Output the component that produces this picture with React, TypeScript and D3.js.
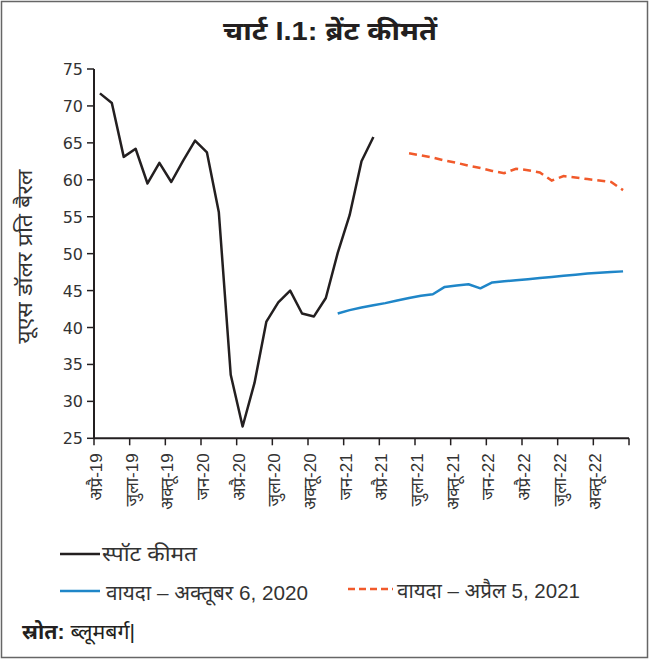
import React from "react";
import * as d3 from "d3";

const monthCount = 45; // Apr-19 .. Dec-22
const tickLabels = [
  "अप्रै-19", "जुला-19", "अक्तू-19", "जन-20", "अप्रै-20", "जुला-20", "अक्तू-20", "जन-21",
  "अप्रै-21", "जुला-21", "अक्तू-21", "जन-22", "अप्रै-22", "जुला-22", "अक्तू-22",
];
const yTicks = [25, 30, 35, 40, 45, 50, 55, 60, 65, 70, 75];

// month index 0 = Apr-19
const spotStart = 0;
const spotValues = [
  71.7, 70.4, 63.1, 64.2, 59.5, 62.3, 59.7, 62.6, 65.3, 63.7, 55.6, 33.6,
  26.6, 32.5, 40.8, 43.4, 45.0, 41.9, 41.5, 44.0, 50.1, 55.2, 62.5, 65.8,
];
const futOctStart = 20;
const futOctValues = [
  41.9, 42.35, 42.7, 43.0, 43.3, 43.65, 44.0, 44.3, 44.5, 45.5, 45.7, 45.85,
  45.3, 46.1, 46.25, 46.4, 46.55, 46.7, 46.85, 47.0, 47.15, 47.3, 47.4, 47.5, 47.6,
];
const futAprStart = 26;
const futAprValues = [
  63.6, 63.3, 63.0, 62.6, 62.3, 61.9, 61.6, 61.2, 60.9, 61.5, 61.3, 61.0,
  59.9, 60.5, 60.3, 60.1, 59.9, 59.7, 58.6,
];

const W = 649;
const H = 659;
const FONT = "'Liberation Sans', 'Noto Sans Devanagari', Arial, sans-serif";
const NUMFONT = "'DejaVu Sans', Verdana, sans-serif";

export default function App() {
  const x = d3.scaleLinear().domain([0, monthCount]).range([94, 629]);
  const y = d3.scaleLinear().domain([25, 75]).range([438.3, 69]);
  const line = d3
    .line<[number, number]>()
    .x((d) => x(d[0] + 0.5))
    .y((d) => y(d[1]));
  const toPts = (start: number, vals: number[]) =>
    vals.map((v, i) => [start + i, v] as [number, number]);

  const quarterTicks = d3.range(0, monthCount + 1, 3);

  return (
    <svg
      width={W}
      height={H}
      style={{ position: "absolute", left: 0, top: 0, background: "#fff" }}
      fontFamily={FONT}
    >
      <rect x={1.5} y={1.5} width={W - 3} height={H - 3} fill="#fff" stroke="#666" strokeWidth={1.5} />
      <text
        x={330}
        y={40}
        textAnchor="middle"
        fontSize={26}
        fontWeight="bold"
        fill="#231f20"
        textLength={214}
        lengthAdjust="spacingAndGlyphs"
      >
        चार्ट I.1: ब्रेंट कीमतें
      </text>

      {/* y axis */}
      <line x1={x(0)} x2={x(0)} y1={y(75)} y2={y(25)} stroke="#231f20" strokeWidth={2} />
      {yTicks.map((t) => (
        <g key={t}>
          <line x1={x(0) - 7} x2={x(0)} y1={y(t)} y2={y(t)} stroke="#231f20" strokeWidth={1.5} />
          <text x={x(0) - 11} y={y(t) + 6} textAnchor="end" fontSize={16} fill="#333" fontFamily={NUMFONT}>
            {t}
          </text>
        </g>
      ))}
      <text
        transform={`translate(32, ${y(50) + 3}) rotate(-90)`}
        textAnchor="middle"
        fontSize={20}
        fill="#333"
        textLength={174}
        lengthAdjust="spacingAndGlyphs"
      >
        यूएस डॉलर प्रति बैरल
      </text>

      {/* x axis */}
      <line x1={x(0)} x2={x(monthCount)} y1={y(25)} y2={y(25)} stroke="#231f20" strokeWidth={2} />
      {quarterTicks.map((m, i) => (
        <g key={m}>
          <line x1={x(m)} x2={x(m)} y1={y(25)} y2={y(25) + 7} stroke="#231f20" strokeWidth={1.5} />
          {tickLabels[i] && (
            <text
              transform={`translate(${x(m) + 8}, ${y(25) + 15}) rotate(-90)`}
              textAnchor="end"
              fontSize={17}
              fill="#333"
            >
              {tickLabels[i]}
            </text>
          )}
        </g>
      ))}

      {/* series */}
      <path d={line(toPts(spotStart, spotValues)) || ""} fill="none" stroke="#231f20" strokeWidth={2.5} strokeLinejoin="round" />
      <path d={line(toPts(futOctStart, futOctValues)) || ""} fill="none" stroke="#1f86c8" strokeWidth={2.5} strokeLinejoin="round" />
      <path d={line(toPts(futAprStart, futAprValues)) || ""} fill="none" stroke="#f15a2b" strokeWidth={2.5} strokeDasharray="8,5" />

      {/* legend */}
      <line x1={60} x2={100} y1={554} y2={554} stroke="#231f20" strokeWidth={2.5} />
      <text x={102} y={561} fontSize={21} fill="#333" textLength={95} lengthAdjust="spacingAndGlyphs">
        स्पॉट कीमत
      </text>
      <line x1={60} x2={100} y1={591} y2={591} stroke="#1f86c8" strokeWidth={2.5} />
      <text x={106} y={600} fontSize={21} fill="#333" textLength={202} lengthAdjust="spacingAndGlyphs">
        वायदा – अक्तूबर 6, 2020
      </text>
      <line x1={348} x2={393} y1={589} y2={589} stroke="#f15a2b" strokeWidth={2.5} strokeDasharray="7,4" />
      <text x={397} y={598} fontSize={21} fill="#333" textLength={183} lengthAdjust="spacingAndGlyphs">
        वायदा – अप्रैल 5, 2021
      </text>

      <text x={22} y={639} fontSize={20} fill="#231f20" textLength={113} lengthAdjust="spacingAndGlyphs">
        <tspan fontWeight="bold">स्रोत:</tspan> ब्लूमबर्ग|
      </text>
    </svg>
  );
}
